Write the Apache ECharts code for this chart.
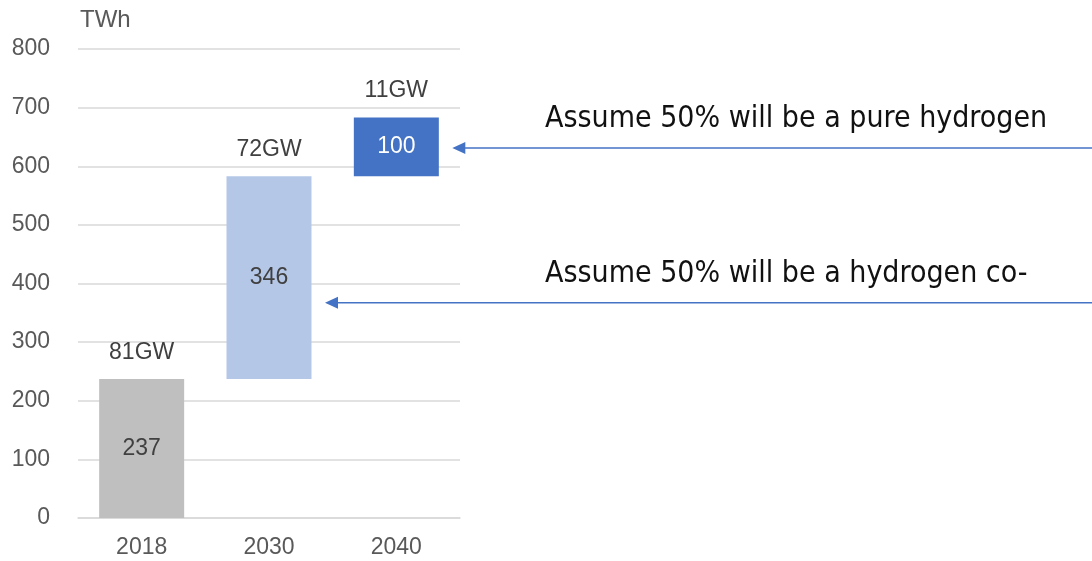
<!DOCTYPE html>
<html>
<head>
<meta charset="utf-8">
<script src="https://cdn.jsdelivr.net/npm/echarts@6/dist/echarts.min.js"></script>
<style>
  html, body { margin: 0; padding: 0; background: #fff; }
  #chart { width: 1092px; height: 561px; }
</style>
</head>
<body>
<div id="chart"></div>
<script>
// data
var years = ['2018', '2030', '2040'];
var baseValues = [0, 237, 583];       // invisible part of the waterfall
var addValues = [237, 346, 100];      // visible step (TWh)
var capacity = ['81GW', '72GW', '11GW'];
var barColors = ['#BFBFBF', '#B4C7E7', '#4472C4'];
var insideLabelColors = ['#404040', '#404040', '#ffffff'];
var notes = ['Assume 50% will be a pure hydrogen', 'Assume 50% will be a hydrogen co-'];
var noteValues = [631, 367];          // level the arrows point at

var chart = echarts.init(document.getElementById('chart'));

var font = 'Liberation Sans';

var options = {
  animation: false,
  grid: { left: 78, right: 632, top: 49, bottom: 43 },
  xAxis: {
    type: 'category',
    data: years,
    axisLine: { lineStyle: { color: '#d9d9d9', width: 1.5 } },
    axisTick: { show: false },
    axisLabel: { fontFamily: font, fontSize: 23, color: '#595959', margin: 18 }
  },
  yAxis: {
    type: 'value',
    min: 0,
    max: 800,
    interval: 100,
    axisLine: { show: false },
    axisTick: { show: false },
    splitLine: { lineStyle: { color: '#d9d9d9', width: 1.5 } },
    axisLabel: { fontFamily: font, fontSize: 23, color: '#595959', margin: 28 }
  },
  series: [
    {
      type: 'bar',
      stack: 'w',
      barWidth: 85,
      itemStyle: { color: 'transparent' },
      silent: true,
      data: baseValues
    },
    {
      type: 'bar',
      stack: 'w',
      barWidth: 85,
      data: addValues.map(function (v, i) {
        return {
          value: v,
          itemStyle: { color: barColors[i] },
          label: { color: insideLabelColors[i] }
        };
      }),
      label: {
        show: true,
        position: 'inside',
        fontFamily: font,
        fontSize: 23
      }
    },
    {
      type: 'bar',
      stack: 'w',
      barWidth: 85,
      data: years.map(function () { return 0; }),
      label: {
        show: true,
        position: 'top',
        distance: 15,
        fontFamily: font,
        fontSize: 23,
        color: '#404040',
        formatter: function (p) { return capacity[p.dataIndex]; }
      }
    }
  ]
};
chart.setOption(options);

// annotations with arrows pointing at the bars
var tipX = [chart.convertToPixel({ xAxisIndex: 0 }, years[2]) + 56, chart.convertToPixel({ xAxisIndex: 0 }, years[1]) + 56];
var g = [];
for (var i = 0; i < notes.length; i++) {
  var y = chart.convertToPixel({ yAxisIndex: 0 }, noteValues[i]);
  g.push({
    type: 'line',
    shape: { x1: tipX[i] + 10, y1: y, x2: 1092, y2: y },
    style: { stroke: '#4472C4', lineWidth: 1.5 }
  });
  g.push({
    type: 'polygon',
    shape: { points: [[tipX[i], y], [tipX[i] + 13, y - 6], [tipX[i] + 13, y + 6]] },
    style: { fill: '#4472C4' }
  });
  g.push({
    type: 'text',
    left: 545,
    top: y - 44,
    style: {
      text: notes[i],
      fontFamily: 'Liberation Sans Narrow, DejaVu Sans Condensed, sans-serif',
      fontSize: 30,
      fill: '#111'
    }
  });
}
g.push({
  type: 'text',
  left: 80,
  top: 8,
  style: { text: 'TWh', fontFamily: font, fontSize: 24, fill: '#595959' }
});
chart.setOption({ graphic: g });
</script>
</body>
</html>
